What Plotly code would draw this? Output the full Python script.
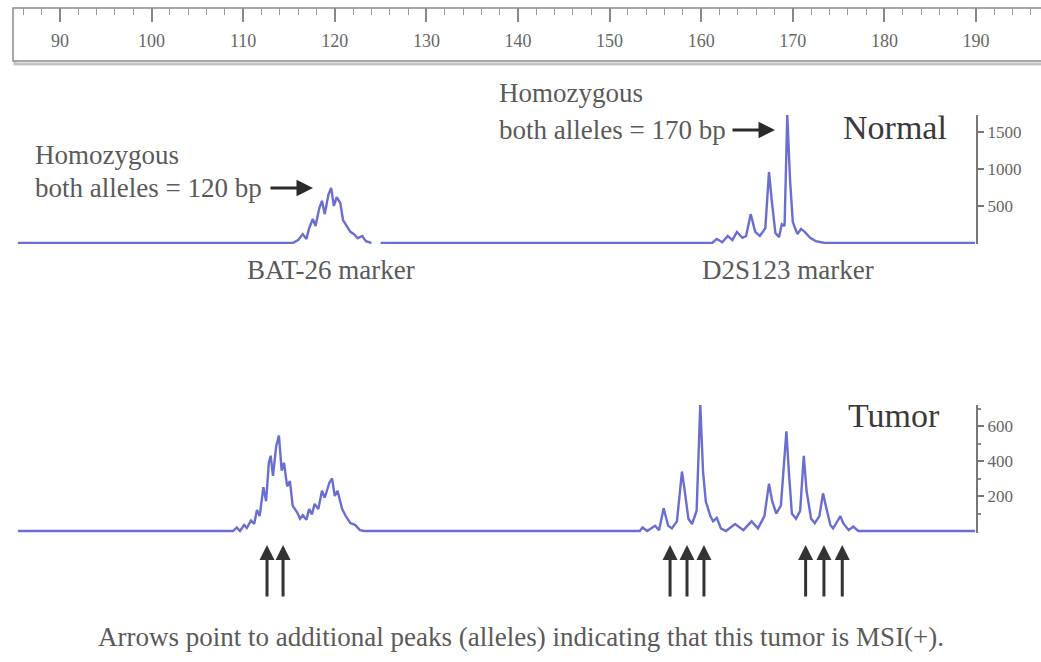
import plotly.graph_objects as go

W, H = 1041, 662

# ---------------- data (base pairs vs. fluorescence units) ----------------
normal_bat26_bp = [85.4, 115.4, 116.0, 116.5, 116.9, 117.2, 117.6, 117.9, 118.3, 118.6, 118.9, 119.3,
                   119.6, 119.9, 120.2, 120.6, 120.9, 121.2, 121.7, 122.1, 122.5, 123.0, 123.4, 124.0]
normal_bat26_rfu = [0, 0, 40, 120, 55, 200, 325, 230, 470, 570, 390, 650,
                    745, 500, 620, 540, 310, 255, 150, 120, 65, 95, 25, 0]

normal_d2s123_bp = [125.0, 161.2, 161.7, 162.3, 162.9, 163.4, 163.9, 164.5, 164.9, 165.4, 165.9, 166.4,
                    167.0, 167.4, 167.7, 168.1, 168.5, 168.8, 169.1, 169.4, 169.7, 170.0, 170.5, 170.9,
                    171.3, 171.9, 172.5, 173.5, 189.9]
normal_d2s123_rfu = [0, 0, 55, 10, 95, 40, 150, 70, 95, 390, 150, 95,
                     200, 960, 580, 135, 80, 255, 230, 1730, 850, 285, 120, 190,
                     150, 70, 25, 0, 0]

tumor_bat26_bp = [85.4, 108.9, 109.3, 109.65, 110.1, 110.4, 110.85, 111.2, 111.5, 111.8, 112.2, 112.5,
                  112.8, 113.0, 113.25, 113.6, 113.9, 114.2, 114.45, 114.8, 115.1, 115.4, 115.9, 116.2,
                  116.5, 116.9, 117.2, 117.5, 117.8, 118.2, 118.6, 118.9, 119.4, 119.7, 120.0, 120.3,
                  120.8, 121.2, 121.7, 122.2, 122.75, 123.2]
tumor_bat26_rfu = [0, 0, 20, 0, 35, 17, 60, 40, 120, 85, 250, 170,
                   390, 430, 315, 485, 545, 345, 390, 255, 285, 145, 105, 70,
                   90, 65, 125, 95, 155, 125, 230, 190, 275, 300, 200, 230,
                   125, 85, 45, 35, 5, 0]

tumor_d2s123_bp = [153.3, 153.6, 154.1, 154.96, 155.4, 155.9, 156.4, 156.8, 157.35, 157.9, 158.2, 158.6,
                   159.0, 159.5, 159.9, 160.2, 160.5, 161.0, 161.3, 161.7, 162.15, 162.7, 163.7, 164.6,
                   165.5, 166.2, 166.9, 167.4, 167.75, 168.2, 168.7, 169.3, 169.6, 169.9, 170.35, 170.8,
                   171.2, 171.5, 172.0, 172.4, 172.9, 173.3, 173.6, 174.1, 174.4, 174.9, 175.2, 175.5,
                   176.1, 176.6, 177.15, 189.9]
tumor_d2s123_rfu = [0, 20, 0, 30, 5, 130, 30, 15, 55, 340, 230, 70,
                    40, 115, 725, 340, 170, 85, 55, 75, 15, 0, 40, 5,
                    55, 15, 85, 270, 170, 100, 145, 570, 315, 100, 70, 115,
                    430, 230, 70, 45, 85, 215, 145, 35, 15, 55, 85, 45,
                    5, 25, 0, 0]

msi_arrow_bp = [112.6, 114.35, 156.6, 158.45, 160.3, 171.4, 173.4, 175.4]

ruler_ticks = [90, 100, 110, 120, 130, 140, 150, 160, 170, 180, 190]
normal_ticks = [500, 1000, 1500]
tumor_ticks = [200, 400, 600]

# ---------------- layout helpers ----------------
PX_PER_BP = 9.16
X0_PX, X0_BP = 60, 90


def bp_at(px):
    return X0_BP + (px - X0_PX) / PX_PER_BP


def fx(px):
    return px / W


def fy(py):
    return 1 - py / H


LINE = "rgb(105,110,208)"
SERIF = "Liberation Serif, Times New Roman, serif"
TXT = "#5a5a5a"

fig = go.Figure()
fig.add_trace(go.Scatter(x=normal_bat26_bp, y=normal_bat26_rfu, mode="lines",
                         line=dict(color=LINE, width=2.4), xaxis="x", yaxis="y", hoverinfo="skip"))
fig.add_trace(go.Scatter(x=normal_d2s123_bp, y=normal_d2s123_rfu, mode="lines",
                         line=dict(color=LINE, width=2.4), xaxis="x", yaxis="y", hoverinfo="skip"))
fig.add_trace(go.Scatter(x=tumor_bat26_bp + tumor_d2s123_bp, y=tumor_bat26_rfu + tumor_d2s123_rfu,
                         mode="lines", line=dict(color=LINE, width=2.4), xaxis="x", yaxis="y2",
                         hoverinfo="skip"))

axis_font = dict(family=SERIF, size=17, color="#666")

fig.update_layout(
    width=W, height=H, autosize=False,
    margin=dict(l=0, r=0, t=0, b=0),
    paper_bgcolor="white", plot_bgcolor="rgba(0,0,0,0)",
    showlegend=False,
    xaxis=dict(domain=[0, 1], range=[bp_at(0), bp_at(W)], visible=False, anchor="y"),
    yaxis=dict(domain=[fy(244), fy(115)], range=[-13.5, 1730], side="right", anchor="free",
               position=fx(977), showline=True, linecolor="#777", linewidth=2,
               ticks="outside", ticklen=6, tickwidth=2, tickcolor="#777",
               tickvals=normal_ticks, tickfont=axis_font, showgrid=False, zeroline=False),
    yaxis2=dict(domain=[fy(533), fy(405)], range=[-11.4, 720], side="right", anchor="free",
                position=fx(977), showline=True, linecolor="#777", linewidth=2,
                ticks="outside", ticklen=6, tickwidth=2, tickcolor="#777",
                tickvals=tumor_ticks, tickfont=axis_font, showgrid=False, zeroline=False,
                minor=dict(tickvals=[100, 300, 500, 700], ticks="outside", ticklen=3,
                           tickwidth=2, tickcolor="#888")),
    # ruler
    xaxis2=dict(domain=[fx(15), 1], range=[bp_at(15), bp_at(W)], anchor="y3", side="top",
                showline=False, ticks="inside", ticklen=14, tickwidth=1.5, tickcolor="#888",
                tickvals=ruler_ticks, ticklabelposition="inside", ticklabelstandoff=13,
                tickfont=dict(family=SERIF, size=18, color="#666"),
                minor=dict(dtick=2, tick0=86, ticks="inside", ticklen=7, tickwidth=1.2, tickcolor="#999"),
                showgrid=False, zeroline=False),
    yaxis3=dict(domain=[fy(61), fy(8)], range=[0, 1], anchor="x2", visible=False),
)

# dummy trace to activate the ruler axes
fig.add_trace(go.Scatter(x=[bp_at(20)], y=[0.5], mode="markers", marker=dict(opacity=0),
                         xaxis="x2", yaxis="y3", hoverinfo="skip"))

shapes = []
# ruler frame shadow and frame
shapes.append(dict(type="rect", xref="paper", yref="paper", x0=fx(15), x1=fx(1050), y0=fy(64), y1=fy(11),
                   line=dict(color="#c4c4c4", width=3), layer="below"))
shapes.append(dict(type="rect", xref="paper", yref="paper", x0=fx(13), x1=fx(1048), y0=fy(61), y1=fy(8),
                   line=dict(color="#8a8a8a", width=1.5), fillcolor="white", layer="below"))
fig.update_layout(shapes=shapes)

ann = []


def text(px, py, s, size=27, anchor="left", color=TXT):
    ann.append(dict(x=fx(px), y=fy(py), xref="paper", yref="paper", text=s, showarrow=False,
                    xanchor=anchor, yanchor="middle", font=dict(family=SERIF, size=size, color=color)))


text(33, 155, "Homozygous")
text(33, 188, "both alleles = 120 bp")
text(497, 93, "Homozygous")
text(497, 130, "both alleles = 170 bp")
text(331, 270, "BAT-26 marker", anchor="center")
text(788, 270, "D2S123 marker", anchor="center")
text(895, 128, "Normal", size=34, anchor="center", color="#3a3a3a")
text(894, 415, "Tumor", size=34, anchor="center", color="#3a3a3a")
text(521, 637, "Arrows point to additional peaks (alleles) indicating that this tumor is MSI(+).", anchor="center")

# right-pointing arrows to homozygous peaks
for tip_px, py in [(313, 188), (775, 130)]:
    ann.append(dict(x=fx(tip_px), y=fy(py), xref="paper", yref="paper", text="", showarrow=True,
                    ax=-44, ay=0, arrowhead=2, arrowsize=1.1, arrowwidth=3, arrowcolor="#2a2a2a"))

# up arrows marking additional alleles
for bp in msi_arrow_bp:
    ann.append(dict(x=bp, y=fy(545), xref="x", yref="paper", text="", showarrow=True,
                    ax=0, ay=53, arrowhead=2, arrowsize=1.0, arrowwidth=3, arrowcolor="#333"))

fig.update_layout(annotations=ann)

fig.write_html("out.html", config={"displayModeBar": False},
               post_script="document.body.style.margin='0';document.body.style.overflow='hidden';")
